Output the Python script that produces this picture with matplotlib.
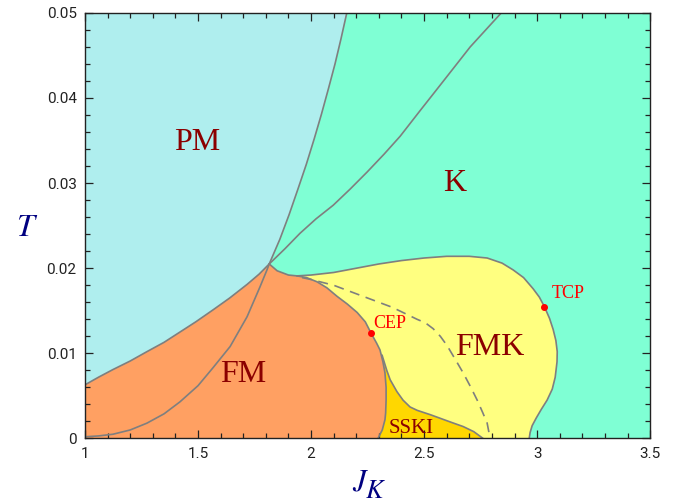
import numpy as np
import matplotlib
matplotlib.use('Agg')
import matplotlib.pyplot as plt
from matplotlib.ticker import MultipleLocator

# boundary curves (J_K, T)
pm_fm_x = [1.000, 1.060, 1.124, 1.200, 1.274, 1.350, 1.420, 1.490, 1.566, 1.640, 1.717, 1.770, 1.815]
pm_fm_y = [0.0063, 0.0072, 0.0081, 0.0091, 0.0102, 0.0113, 0.0125, 0.0137, 0.0151, 0.0165, 0.0181, 0.0193, 0.0205]

fm_inner_x = [1.000, 1.060, 1.124, 1.200, 1.274, 1.350, 1.420, 1.500, 1.566, 1.642, 1.717, 1.774, 1.805, 1.815]
fm_inner_y = [0.0002, 0.0003, 0.0005, 0.0010, 0.0018, 0.0029, 0.0043, 0.0062, 0.0083, 0.0108, 0.0143, 0.0178, 0.0198, 0.0205]

pm_k_x = [1.815, 1.862, 1.903, 1.942, 1.979, 2.014, 2.046, 2.077, 2.106, 2.132, 2.159, 2.167]
pm_k_y = [0.0205, 0.0234, 0.0263, 0.0293, 0.0322, 0.0352, 0.0381, 0.0411, 0.0440, 0.0469, 0.0501, 0.0510]

k_inner_x = [1.815, 1.885, 1.951, 2.022, 2.098, 2.173, 2.248, 2.323, 2.394, 2.482, 2.571, 2.704, 2.845, 2.881]
k_inner_y = [0.0205, 0.0223, 0.0241, 0.0258, 0.0274, 0.0293, 0.0313, 0.0334, 0.0355, 0.0385, 0.0415, 0.0460, 0.0501, 0.0512]

fm_k_x = [1.815, 1.850, 1.900, 1.938]
fm_k_y = [0.0205, 0.0197, 0.0192, 0.0191]

fmk_k_x = [1.938, 2.000, 2.100, 2.200, 2.300, 2.400, 2.500, 2.600, 2.700, 2.779, 2.845, 2.894, 2.940,
           2.982, 3.010, 3.032, 3.055, 3.071, 3.083, 3.089, 3.088, 3.080, 3.067, 3.044, 3.018, 2.996,
           2.978, 2.969, 2.965]
fmk_k_y = [0.0191, 0.0192, 0.0195, 0.0200, 0.0205, 0.0209, 0.0212, 0.0214, 0.0214, 0.0212, 0.0206, 0.0198, 0.0189,
           0.0176, 0.0166, 0.0155, 0.0141, 0.0128, 0.0115, 0.0102, 0.0090, 0.0072, 0.0058, 0.0045, 0.0034, 0.0024,
           0.0015, 0.0007, 0.0]

fm_right_x = [1.938, 1.980, 2.027, 2.070, 2.115, 2.160, 2.204, 2.240, 2.265, 2.290, 2.305, 2.318, 2.327,
              2.332, 2.332, 2.330, 2.327, 2.315, 2.296]
fm_right_y = [0.0191, 0.0189, 0.0184, 0.0177, 0.0167, 0.0158, 0.0148, 0.0137, 0.0124, 0.0112, 0.0104, 0.0090, 0.0077,
              0.0060, 0.0045, 0.0030, 0.0022, 0.0010, 0.0]

sski_x = [2.314, 2.335, 2.350, 2.380, 2.407, 2.438, 2.470, 2.527, 2.558, 2.620, 2.673, 2.720, 2.761]
sski_y = [0.0098, 0.0080, 0.0069, 0.0055, 0.0045, 0.0037, 0.0033, 0.0028, 0.0025, 0.0019, 0.0014, 0.0008, 0.0]

dash_x = [1.960, 1.996, 2.100, 2.230, 2.360, 2.469, 2.505, 2.540, 2.572, 2.602, 2.640, 2.673, 2.705,
          2.735, 2.760, 2.779, 2.792]
dash_y = [0.0189, 0.0187, 0.0180, 0.0167, 0.0154, 0.0140, 0.0136, 0.0129, 0.0120, 0.0109, 0.0092, 0.0077, 0.0061,
          0.0045, 0.0030, 0.0018, 0.0]

cep = (2.265, 0.0124)
tcp = (3.032, 0.0155)

region_names = ['PM', 'K', 'FM', 'FMK', 'SSKI']
region_x = [1.496, 2.637, 1.699, 2.792, 2.442]
region_y = [0.0348, 0.0299, 0.0075, 0.0107, 0.0012]
region_size = [23, 23, 23, 23, 15]

xticks = [1, 1.5, 2, 2.5, 3, 3.5]
xtick_labels = ['1', '1.5', '2', '2.5', '3', '3.5']
yticks = [0, 0.01, 0.02, 0.03, 0.04, 0.05]
ytick_labels = ['0', '0.01', '0.02', '0.03', '0.04', '0.05']

c_k = '#7fffd4'
c_pm = '#afeeee'
c_fm = '#ffa062'
c_fmk = '#ffff80'
c_sski = '#ffd700'
c_line = '#7f7f7f'

fig = plt.figure(figsize=(6.88, 5.04), dpi=100)
ax = fig.add_axes([0.1235, 0.13, 0.8215, 0.8445])
ax.set_xlim(1, 3.5)
ax.set_ylim(0, 0.05)
ax.set_facecolor(c_k)

# PM region
px = [1.0] + pm_k_x[::-1] + pm_fm_x[::-1]
py = [0.0510] + pm_k_y[::-1] + pm_fm_y[::-1]
ax.fill(px, py, color=c_pm, lw=0)

# FM region
px = pm_fm_x + fm_k_x[1:] + fm_right_x[1:] + [1.0]
py = pm_fm_y + fm_k_y[1:] + fm_right_y[1:] + [0.0]
ax.fill(px, py, color=c_fm, lw=0)

# FMK region
px = fmk_k_x + fm_right_x[::-1]
py = fmk_k_y + fm_right_y[::-1]
ax.fill(px, py, color=c_fmk, lw=0)

# SSKI region: top curve plus the part of the FM edge below where it branches
low = [(x, y) for x, y in zip(fm_right_x, fm_right_y) if y < sski_y[0]][::-1]
px = sski_x + [p[0] for p in low]
py = sski_y + [p[1] for p in low]
ax.fill(px, py, color=c_sski, lw=0)

lw = 1.2
for xs, ys in [(pm_fm_x, pm_fm_y), (fm_inner_x, fm_inner_y), (pm_k_x, pm_k_y),
               (k_inner_x, k_inner_y), (fm_k_x, fm_k_y), (fmk_k_x, fmk_k_y),
               (fm_right_x, fm_right_y), (sski_x, sski_y)]:
    ax.plot(xs, ys, color=c_line, lw=lw, solid_joinstyle='round', solid_capstyle='round')
ax.plot(dash_x, dash_y, color=c_line, lw=lw, dashes=(6, 4))

ax.plot(*cep, 'o', color='red', ms=4, zorder=5)
ax.plot(*tcp, 'o', color='red', ms=4, zorder=5)
ax.text(2.274, 0.0130, 'CEP', color='red', fontsize=13, family='Liberation Serif', va='baseline')
ax.text(3.066, 0.0165, 'TCP', color='red', fontsize=13, family='Liberation Serif', va='baseline')

for name, x, y, s in zip(region_names, region_x, region_y, region_size):
    ax.text(x, y, name, color='#8b0000', fontsize=s, family='Liberation Serif',
            ha='center', va='center')

ax.set_xticks(xticks)
ax.set_xticklabels(xtick_labels)
ax.set_yticks(yticks)
ax.set_yticklabels(ytick_labels)
ax.xaxis.set_minor_locator(MultipleLocator(0.1))
ax.yaxis.set_minor_locator(MultipleLocator(0.002))
ax.tick_params(which='both', direction='in', top=True, right=True, colors='#222222',
               labelsize=11, width=0.9)
ax.tick_params(which='major', length=6, pad=6)
ax.tick_params(which='minor', length=3.5)
for lab in ax.get_xticklabels() + ax.get_yticklabels():
    lab.set_family('Roboto')
for sp in ax.spines.values():
    sp.set_color('#222222')
    sp.set_linewidth(1.0)

# axis titles: italic serif, navy
navy = '#000080'
fig.text(25 / 688, 1 - 229 / 504, 'T', color=navy, fontsize=23, family='STIXGeneral',
         style='italic', ha='center', va='center')
fig.text(359 / 688, 1 - 483 / 504, 'J', color=navy, fontsize=22, family='STIXGeneral',
         style='italic', ha='center', va='center')
fig.text(375 / 688, 1 - 492 / 504, 'K', color=navy, fontsize=19, family='STIXGeneral',
         style='italic', ha='center', va='center')

fig.savefig('out.png', dpi=100)
